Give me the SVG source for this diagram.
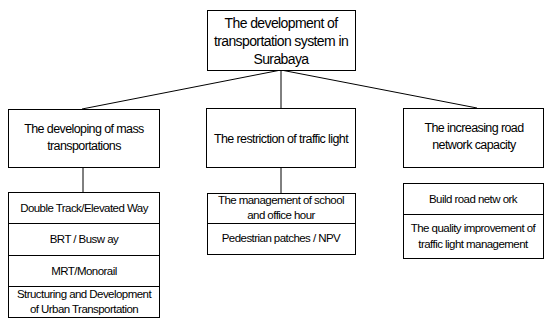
<svg xmlns="http://www.w3.org/2000/svg" width="545" height="321" viewBox="0 0 545 321">
<style>
.box{fill:#fff;stroke:#000;stroke-width:1}
.ln{stroke:#000;stroke-width:1;fill:none}
text{font-family:"Liberation Sans",Arial,sans-serif;text-anchor:middle;fill:#000}
.t0{font-size:14px;letter-spacing:-0.6px}
.t1{font-size:12.5px;letter-spacing:-0.6px}
.t2{font-size:11.5px;letter-spacing:-0.55px}
</style>
<rect width="545" height="321" fill="#fff"/>
<g id="connectors">
<line class="ln" x1="281" y1="70" x2="82" y2="109"/>
<line class="ln" x1="281" y1="70" x2="281" y2="108"/>
<line class="ln" x1="281" y1="70" x2="477" y2="108"/>
<line class="ln" x1="83" y1="167" x2="83" y2="192"/>
<line class="ln" x1="281" y1="167" x2="281" y2="193"/>
<line x1="83" y1="256" x2="83" y2="286" stroke="#7BA3C8" stroke-width="1.2"/>
</g>
<g id="root">
<rect class="box" x="207.5" y="10.5" width="148" height="60"/>
<text class="t0" x="281" y="28">The development of</text>
<text class="t0" x="281" y="46">transportation system in</text>
<text class="t0" x="281" y="64">Surabaya</text>
</g>
<g id="mass">
<rect class="box" x="8.5" y="109.5" width="151" height="58"/>
<text class="t1" x="84" y="133">The developing of mass</text>
<text class="t1" x="84" y="150">transportations</text>
</g>
<g id="restriction">
<rect class="box" x="206.5" y="108.5" width="149" height="59"/>
<text class="t1" x="281" y="143">The restriction of traffic light</text>
</g>
<g id="road">
<rect class="box" x="403.5" y="108.5" width="140" height="59"/>
<text class="t1" x="474" y="132">The increasing road</text>
<text class="t1" x="474" y="149">network capacity</text>
</g>
<g id="mass-list">
<rect class="box" x="8.5" y="192.5" width="151" height="125"/>
<line class="ln" x1="8.5" y1="223.5" x2="159.5" y2="223.5"/>
<line class="ln" x1="8.5" y1="255.5" x2="159.5" y2="255.5"/>
<line class="ln" x1="8.5" y1="286.5" x2="159.5" y2="286.5"/>
<text class="t2" x="84" y="212">Double Track/Elevated Way</text>
<text class="t2" x="84" y="243">BRT / Busw ay</text>
<text class="t2" x="84" y="275">MRT/Monorail</text>
<text class="t2" x="84" y="298">Structuring and Development</text>
<text class="t2" x="84" y="313">of Urban Transportation</text>
</g>
<g id="restriction-list">
<rect class="box" x="207.5" y="193.5" width="148" height="61"/>
<line class="ln" x1="207.5" y1="223.5" x2="355.5" y2="223.5"/>
<text class="t2" x="281" y="204">The management of school</text>
<text class="t2" x="281" y="219">and office hour</text>
<text class="t2" x="281" y="242">Pedestrian patches / NPV</text>
</g>
<g id="road-list">
<rect class="box" x="403.5" y="183.5" width="140" height="75"/>
<line class="ln" x1="403.5" y1="214.5" x2="543.5" y2="214.5"/>
<text class="t2" x="473" y="203">Build road netw ork</text>
<text class="t2" x="473" y="232">The quality improvement of</text>
<text class="t2" x="473" y="248">traffic light management</text>
</g>
</svg>
